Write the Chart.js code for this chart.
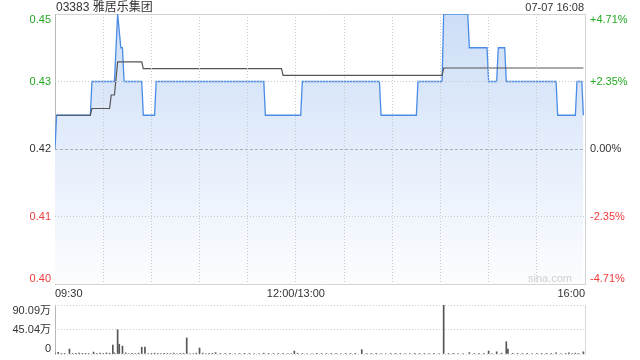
<!DOCTYPE html>
<html><head><meta charset="utf-8">
<script src="https://cdn.jsdelivr.net/npm/chart.js@4"></script>
<style>
html,body{margin:0;padding:0;background:#fff;width:640px;height:360px;overflow:hidden;}
#wrap{position:relative;width:640px;height:360px;font-family:"Liberation Sans","Noto Sans CJK SC",sans-serif;}
canvas{position:absolute;left:0;}
#main{top:0;width:640px;height:300px;}
#vol{top:296px;width:640px;height:64px;}
.t{position:absolute;white-space:nowrap;line-height:1;}
</style></head><body>
<div id="wrap">
<canvas id="main" width="640" height="300"></canvas>
<canvas id="vol" width="640" height="64"></canvas>
<div class="t" style="left:56px;top:1px;font-size:12px;color:#333">03383 雅居乐集团</div>
<div class="t" style="right:56px;top:2px;font-size:11px;color:#333">07-07 16:08</div>
<div class="t" style="right:68px;top:273px;font-size:11px;color:#cfcfcf">sina.com</div>
</div>
<script>
// ---- data ----
const prevClose = 0.425;
const priceTimes = [0,1,22,23,37,39,41,42,43,54,55,62,63,130,131,153,154,202,203,225,226,241,242,257,258,269,270,275,276,280,281,312,313,324,325,328,329];
const prices     = [0.425,0.430,0.430,0.435,0.435,0.445,0.440,0.440,0.435,0.435,0.430,0.430,0.435,0.435,0.430,0.430,0.435,0.435,0.430,0.430,0.435,0.435,0.445,0.445,0.440,0.440,0.435,0.435,0.440,0.440,0.435,0.435,0.430,0.430,0.435,0.435,0.430];
const avgTimes  = [1,22,23,34,35,37,39,54,55,141,142,241,242,329];
const avgPrices = [0.4300,0.4300,0.4310,0.4310,0.4330,0.4330,0.4379,0.4379,0.4369,0.4369,0.4359,0.4359,0.4370,0.4370];
const volTimes  = [0,2,4,6,9,11,13,15,17,19,21,24,26,28,30,32,34,36,37,39,40,42,44,46,48,50,52,54,56,58,60,62,64,66,68,70,72,74,76,78,80,82,84,86,88,90,92,94,96,98,100,103,106,109,112,115,118,121,124,127,130,133,136,139,142,145,147,149,151,154,157,160,163,166,169,172,175,178,181,184,187,191,194,197,200,203,206,209,212,215,218,221,224,227,230,233,236,239,242,245,248,251,254,258,261,264,267,270,272,275,278,281,282,285,288,291,294,297,300,303,306,309,312,315,318,320,322,324,326,329];
const volValues = [1.5,3,1,1.2,9,1,0.8,1.5,1,1.2,1,3.5,1,1.5,1,2,1.5,16.5,2,44.7,18,14.5,2,1,1.2,1,1.5,12.5,12.5,1,1.2,1.5,1,1,1.2,1,1,1.5,1,1,1.2,29.5,1,1,1.5,11,1.5,1,1,1.2,2.5,1,1,1.2,1,1,1.2,1,1,1,1.5,1,1,1,1.2,1,1,5.5,1.5,1,1,1,1.2,1,1,1,1.2,1,1,1,1.2,8,1,1,1.2,1,1,1,1.2,1,1,1,1.2,1,1,1,1.2,1,90.09,1,1.2,1,1,2.5,1,1.2,1,5.5,1,4,1.5,22.5,9,1.2,1,1,1.2,1,1,1,1.2,1,2,1,1,2,1,1.5,1,4];
const xGridMinutes = [0,30,60,90,120,150,180,210,240,270,300,330];
const xLabelMinutes = [0,150,330];
const xLabels = ['09:30','12:00/13:00','16:00'];
const priceTicks = [0.405,0.415,0.425,0.435,0.445];
const priceTickLabels = ['0.40','0.41','0.42','0.43','0.45'];
const pctTickLabels = ['-4.71%','-2.35%','0.00%','+2.35%','+4.71%'];
const volTicks = [0,45.045,90.09];
const volTickLabels = ['0','45.04万','90.09万'];

// ---- styling helpers ----
const fontFam = "'Liberation Sans','Noto Sans CJK SC',sans-serif";
const tickFont = {family: fontFam, size: 11, lineHeight: 1};
const GREEN = '#22aa22', RED = '#ee3b3b', DARK = '#333333';
function colorFor(v){ if (Math.abs(v-prevClose) < 1e-9) return DARK; return v > prevClose ? GREEN : RED; }
function edgeLabel(label, i, n){ if (i === 0) return [label, '']; if (i === n-1) return ['', label]; return label; }
const isPrev = c => c.tick && Math.abs(c.tick.value - prevClose) < 1e-9;
function fitY(w){ return s => { s.width = w; s.paddingTop = 0; s.paddingBottom = 0; }; }

const mainFrame = {id:'mainFrame', beforeDatasetsDraw(chart){
  const {ctx, chartArea:a} = chart; ctx.save(); ctx.lineWidth = 1;
  ctx.strokeStyle = '#d4d4d4';
  ctx.beginPath(); ctx.moveTo(a.left, a.top+0.5); ctx.lineTo(a.right+1, a.top+0.5);
  ctx.moveTo(a.left, a.bottom+0.5); ctx.lineTo(a.right+1, a.bottom+0.5);
  ctx.moveTo(a.right+0.5, a.top); ctx.lineTo(a.right+0.5, a.bottom+1); ctx.stroke();
  ctx.strokeStyle = '#b8b8b8';
  ctx.beginPath(); ctx.moveTo(a.left+0.5, a.top); ctx.lineTo(a.left+0.5, a.bottom+1); ctx.stroke();
  ctx.restore();
}};
const volFrame = {id:'volFrame', beforeDatasetsDraw(chart){
  const {ctx, chartArea:a} = chart; ctx.save(); ctx.lineWidth = 1;
  ctx.strokeStyle = '#b8b8b8';
  ctx.beginPath(); ctx.moveTo(a.left+0.5, a.top); ctx.lineTo(a.left+0.5, a.bottom+1); ctx.stroke();
  ctx.strokeStyle = '#d8d8d8';
  ctx.beginPath(); ctx.moveTo(a.right+0.5, a.top); ctx.lineTo(a.right+0.5, a.bottom+1); ctx.stroke();
  ctx.restore();
}};

new Chart(document.getElementById('main'), {
  type: 'line',
  data: { datasets: [
    { label: '均价', data: avgTimes.map((t,i)=>({x:t, y:avgPrices[i]})), borderColor: '#555555', borderWidth: 1.2,
      pointRadius: 0, fill: false, order: 0 },
    { label: '价格', data: priceTimes.map((t,i)=>({x:t, y:prices[i]})), borderColor: '#4a8ce6', borderWidth: 1.3,
      pointRadius: 0, fill: 'start', order: 1,
      backgroundColor: c => { const a = c.chart.chartArea; if (!a) return 'rgba(0,0,0,0)';
        const g = c.chart.ctx.createLinearGradient(0, a.top, 0, a.bottom);
        g.addColorStop(0, 'rgb(205,222,247)'); g.addColorStop(1, 'rgb(252,253,255)'); return g; } }
  ]},
  options: {
    responsive: false, animation: false, devicePixelRatio: 1,
    layout: { padding: { top: 14, left: 0, right: 0, bottom: 0 } },
    plugins: { legend: {display:false}, tooltip: {enabled:false}, title: {display:false} },
    scales: {
      x: { type: 'linear', min: 0, max: 330, offset: false,
        afterBuildTicks: s => { s.ticks = xGridMinutes.map(v => ({value: v})); },
        afterFit: s => { s.height = 16; s.paddingLeft = 0; s.paddingRight = 0; },
        ticks: { align: 'inner', autoSkip: false, maxRotation: 0, minRotation: 0, padding: 4, color: DARK, font: tickFont,
          callback: v => { const k = xLabelMinutes.indexOf(v); return k >= 0 ? xLabels[k] : ''; } },
        grid: { drawTicks: false, lineWidth: 1, z: 1,
          color: c => (c.index === 0 || c.index === xGridMinutes.length-1) ? 'rgba(0,0,0,0)' : '#c8c8c8' },
        border: { display: false, dash: [1,2] } },
      y: { position: 'left', min: 0.405, max: 0.445,
        afterBuildTicks: s => { s.ticks = priceTicks.map(v => ({value: v})); },
        afterFit: fitY(55),
        ticks: { padding: 4, font: tickFont, autoSkip: false, color: c => colorFor(c.tick.value),
          callback: (v,i,arr) => edgeLabel(priceTickLabels[i], i, arr.length) },
        grid: { drawTicks: false, lineWidth: 1, z: 1,
          color: c => (c.index === 0 || c.index === priceTicks.length-1) ? 'rgba(0,0,0,0)' : (isPrev(c) ? '#b0b0b0' : '#c8c8c8') },
        border: { display: false, dash: c => isPrev(c) ? [3,2] : [1,2] } },
      y2: { position: 'right', min: 0.405, max: 0.445,
        afterBuildTicks: s => { s.ticks = priceTicks.map(v => ({value: v})); },
        afterFit: fitY(55),
        ticks: { padding: 5, font: tickFont, autoSkip: false, color: c => colorFor(c.tick.value),
          callback: (v,i,arr) => edgeLabel(pctTickLabels[i], i, arr.length) },
        grid: { display: false, drawTicks: false }, border: { display: false } }
    }
  },
  plugins: [mainFrame]
});

new Chart(document.getElementById('vol'), {
  type: 'bar',
  data: { datasets: [
    { label: '成交量', data: volTimes.map((t,i)=>({x:t, y:volValues[i]})), backgroundColor: '#555555', borderWidth: 0, barThickness: 1 }
  ]},
  options: {
    responsive: false, animation: false, devicePixelRatio: 1,
    layout: { padding: { top: 9, bottom: 6, left: 0, right: 55 } },
    plugins: { legend: {display:false}, tooltip: {enabled:false} },
    scales: {
      x: { type: 'linear', min: 0, max: 330, offset: false, display: false, grid: {offset:false} },
      y: { position: 'left', min: 0, max: 90.09,
        afterBuildTicks: s => { s.ticks = volTicks.map(v => ({value: v})); },
        afterFit: fitY(55),
        ticks: { padding: 4, color: DARK, font: tickFont, autoSkip: false,
          callback: (v,i,arr) => edgeLabel(volTickLabels[i], i, arr.length) },
        grid: { drawTicks: false, color: '#cccccc', lineWidth: 1, z: 1 },
        border: { display: false, dash: [1,2] } }
    }
  },
  plugins: [volFrame]
});
</script>
</body></html>
